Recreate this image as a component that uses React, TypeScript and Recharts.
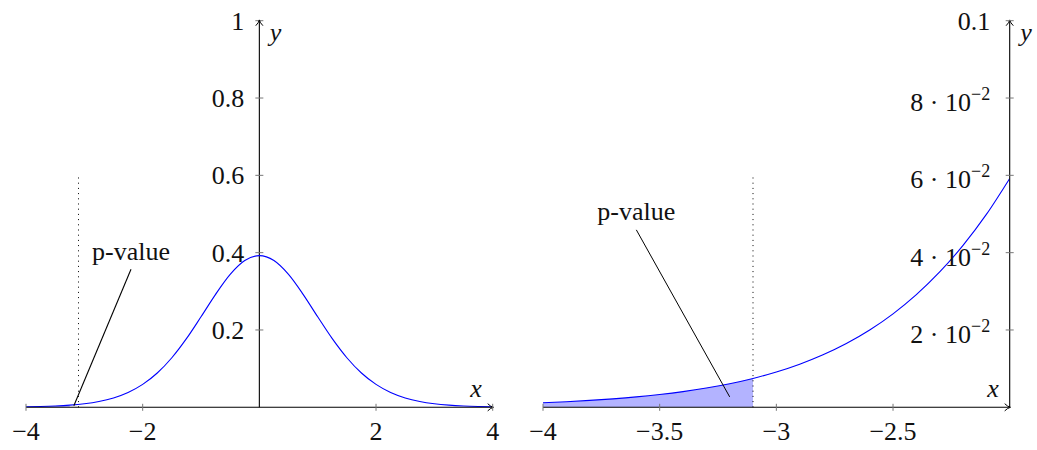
// Two panels: t-density (15 df) over [-4, 4] and a zoom on its left tail with the p-value area
import {
  Area,
  ComposedChart,
  Line,
  ReferenceDot,
  ReferenceLine,
  XAxis,
  YAxis,
} from "recharts";

// full density
const leftX = [
  -4, -3.75, -3.5, -3.25, -3, -2.75, -2.5, -2.25, -2, -1.75, -1.5, -1.25, -1, -0.75, -0.5, -0.25, 0,
  0.25, 0.5, 0.75, 1, 1.25, 1.5, 1.75, 2, 2.25, 2.5, 2.75, 3, 3.25, 3.5, 3.75, 4,
];
const leftPdf = [
  0.00118, 0.00198, 0.00331, 0.00551, 0.00913, 0.01497, 0.0242, 0.0383, 0.0592, 0.0887, 0.1282,
  0.1775, 0.2341, 0.2922, 0.3437, 0.3795, 0.3923, 0.3795, 0.3437, 0.2922, 0.2341, 0.1775, 0.1282,
  0.0887, 0.0592, 0.0383, 0.0242, 0.01497, 0.00913, 0.00551, 0.00331, 0.00198, 0.00118,
];

// left tail
const rightX = [
  -4, -3.9, -3.8, -3.7, -3.6, -3.5, -3.4, -3.3, -3.2, -3.1, -3, -2.9, -2.8, -2.7, -2.6, -2.5, -2.4,
  -2.3, -2.2, -2.1, -2,
];
const rightPdf = [
  0.00118, 0.00145, 0.00178, 0.00219, 0.00269, 0.00331, 0.00406, 0.00498, 0.0061, 0.00747, 0.00913,
  0.01115, 0.01358, 0.0165, 0.02, 0.02418, 0.02914, 0.035, 0.04188, 0.04989, 0.0592,
];

const cutoff = -3.1;

const leftXTicks = [-4, -2, 2, 4];
const leftYTicks = [0.2, 0.4, 0.6, 0.8, 1];
const rightXTicks = [-4, -3.5, -3, -2.5];
const rightYTicks = [0.02, 0.04, 0.06, 0.08, 0.1];
const rightYMant = ["2", "4", "6", "8", "0.1"];
const rightYExp = ["\u22122", "\u22122", "\u22122", "\u22122", ""];

const FONT = "Liberation Serif, Times New Roman, serif";
const INK = "#111";
const TICK = "#777";
const CURVE = "#0000ff";
const SHADE = "#b3b3ff";

const W = 520;
const H = 450;
const MARGIN = { top: 20.7, right: 27.3, bottom: 12.7, left: 26 };
// the right-hand y axis takes 1px of width itself
const MARGIN_R = { ...MARGIN, right: 26.3 };

const fmt = (v: number) => String(v).replace("-", "\u2212");

function XTick({ x, y, payload }: any) {
  return (
    <g>
      <line x1={x} x2={x} y1={y - 3.5} y2={y + 3.5} stroke={TICK} />
      <text x={x} y={y + 32.5} textAnchor="middle" style={{ fontFamily: FONT }} fontSize={26} fill={INK}>
        {fmt(payload.value)}
      </text>
    </g>
  );
}

function RightYTick({ x, y, payload }: any) {
  const i = rightYTicks.indexOf(payload.value);
  const exp = rightYExp[i];
  return (
    <g>
      <line x1={x - 4} x2={x + 4} y1={y} y2={y} stroke={TICK} />
      <text
        x={x - 19.5}
        y={y + (exp ? 13 : 9)}
        textAnchor="end"
        style={{ fontFamily: FONT }}
        fontSize={26}
        fill={INK}
      >
        {exp ? `${rightYMant[i]} \u00b7 10` : rightYMant[i]}
        {exp && (
          <tspan dy={-11} fontSize={18}>
            {exp}
          </tspan>
        )}
      </text>
    </g>
  );
}

const arrowRight = (p: any) => (
  <path
    d={`M${p.cx - 5},${p.cy - 3.6} Q${p.cx - 2},${p.cy - 0.6} ${p.cx + 0.8},${p.cy} Q${p.cx - 2},${p.cy + 0.6} ${p.cx - 5},${p.cy + 3.6}`}
    fill="none"
    stroke="#000"
    strokeWidth={1}
  />
);

const arrowUp = (p: any) => (
  <path
    d={`M${p.cx - 3.6},${p.cy + 5} Q${p.cx - 0.6},${p.cy + 2} ${p.cx},${p.cy - 0.8} Q${p.cx + 0.6},${p.cy + 2} ${p.cx + 3.6},${p.cy + 5}`}
    fill="none"
    stroke="#000"
    strokeWidth={1}
  />
);

const axisLabel = (txt: string, dx: number, dy: number, anchor: string) => (p: any) => (
  <text
    x={p.cx + dx}
    y={p.cy + dy}
    textAnchor={anchor}
    style={{ fontFamily: FONT }}
    fontStyle="italic"
    fontSize={26}
    fill={INK}
  >
    {txt}
  </text>
);

const note = (txt: string) => (p: any) => (
  <text x={p.cx} y={p.cy} textAnchor="middle" style={{ fontFamily: FONT }} fontSize={26} fill={INK}>
    {txt}
  </text>
);

function LeftPanel() {
  const data = leftX.map((x, i) => ({
    x,
    pdf: leftPdf[i],
    tail: x <= cutoff + 1e-9 ? leftPdf[i] : null,
  }));

  return (
    <ComposedChart width={W} height={H} data={data} margin={MARGIN}>
      <XAxis
        dataKey="x"
        type="number"
        domain={[-4, 4]}
        ticks={leftXTicks}
        interval={0}
        allowDataOverflow
        height={30}
        tickSize={0}
        tickMargin={0}
        tickLine={false}
        axisLine={{ stroke: "#000", strokeWidth: 1.1 }}
        tick={<XTick />}
      />
      <YAxis type="number" domain={[0, 1]} hide width={0} allowDataOverflow />

      <Area
        dataKey="tail"
        type="monotone"
        stroke="none"
        fill={SHADE}
        fillOpacity={1}
        isAnimationActive={false}
      />
      <ReferenceLine x={0} stroke="#000" strokeWidth={1.1} ifOverflow="visible" />
      <ReferenceLine
        segment={[{ x: cutoff, y: 0 }, { x: cutoff, y: 0.6 }]}
        stroke="#000"
        strokeDasharray="1 4.2"
        ifOverflow="visible"
      />
      <Line
        dataKey="pdf"
        type="monotone"
        stroke={CURVE}
        strokeWidth={1.1}
        dot={false}
        isAnimationActive={false}
      />
      <ReferenceLine
        segment={[{ x: -2.2, y: 0.357 }, { x: -3.18, y: 0.004 }]}
        stroke="#000"
        strokeWidth={1.1}
        ifOverflow="visible"
      />
      <ReferenceDot x={-2.2} y={0.38} r={0} ifOverflow="visible" shape={note("p-value")} />

      {leftYTicks.map((v) => (
        <ReferenceDot
          key={v}
          x={0}
          y={v}
          r={0}
          ifOverflow="visible"
          shape={(p: any) => (
            <g>
              <line x1={p.cx - 4} x2={p.cx + 4} y1={p.cy} y2={p.cy} stroke={TICK} />
              <text
                x={p.cx - 15}
                y={p.cy + 9}
                textAnchor="end"
                style={{ fontFamily: FONT }}
                fontSize={26}
                fill={INK}
              >
                {fmt(v)}
              </text>
            </g>
          )}
        />
      ))}

      <ReferenceDot x={4} y={0} r={0} ifOverflow="visible" shape={arrowRight} />
      <ReferenceDot x={0} y={1} r={0} ifOverflow="visible" shape={arrowUp} />
      <ReferenceDot x={4} y={0} r={0} ifOverflow="visible" shape={axisLabel("x", -11, -10, "end")} />
      <ReferenceDot x={0} y={1} r={0} ifOverflow="visible" shape={axisLabel("y", 10.5, 20, "start")} />
    </ComposedChart>
  );
}

function RightPanel() {
  const data = rightX.map((x, i) => ({
    x,
    pdf: rightPdf[i],
    tail: x <= cutoff + 1e-9 ? rightPdf[i] : null,
  }));

  return (
    <ComposedChart width={W} height={H} data={data} margin={MARGIN_R}>
      <XAxis
        dataKey="x"
        type="number"
        domain={[-4, -2]}
        ticks={rightXTicks}
        interval={0}
        allowDataOverflow
        height={30}
        tickSize={0}
        tickMargin={0}
        tickLine={false}
        axisLine={{ stroke: "#000", strokeWidth: 1.1 }}
        tick={<XTick />}
      />
      <YAxis
        type="number"
        orientation="right"
        width={1}
        domain={[0, 0.1]}
        ticks={rightYTicks}
        interval={0}
        allowDataOverflow
        tickSize={0}
        tickMargin={0}
        tickLine={false}
        axisLine={{ stroke: "#000", strokeWidth: 1.1 }}
        tick={<RightYTick />}
      />

      <Area
        dataKey="tail"
        type="monotone"
        stroke="none"
        fill={SHADE}
        fillOpacity={1}
        isAnimationActive={false}
      />
      <ReferenceLine
        segment={[{ x: cutoff, y: 0 }, { x: cutoff, y: 0.06 }]}
        stroke="#000"
        strokeDasharray="1 4.2"
        ifOverflow="visible"
      />
      <Line
        dataKey="pdf"
        type="monotone"
        stroke={CURVE}
        strokeWidth={1.1}
        dot={false}
        isAnimationActive={false}
      />
      <ReferenceLine
        segment={[{ x: -3.6, y: 0.0459 }, { x: -3.2, y: 0.0027 }]}
        stroke="#000"
        strokeWidth={1}
        ifOverflow="visible"
      />
      <ReferenceDot x={-3.6} y={0.0485} r={0} ifOverflow="visible" shape={note("p-value")} />

      <ReferenceDot x={-2} y={0} r={0} ifOverflow="visible" shape={arrowRight} />
      <ReferenceDot x={-2} y={0.1} r={0} ifOverflow="visible" shape={arrowUp} />
      <ReferenceDot x={-2} y={0} r={0} ifOverflow="visible" shape={axisLabel("x", -11, -10, "end")} />
      <ReferenceDot x={-2} y={0.1} r={0} ifOverflow="visible" shape={axisLabel("y", 10.5, 20, "start")} />
    </ComposedChart>
  );
}

export default function App() {
  return (
    <div style={{ position: "absolute", left: 0, top: 0, width: 1037, height: 450, background: "#fff" }}>
      <div style={{ position: "absolute", left: 0, top: 0 }}>
        <LeftPanel />
      </div>
      <div style={{ position: "absolute", left: 517, top: 0 }}>
        <RightPanel />
      </div>
    </div>
  );
}
